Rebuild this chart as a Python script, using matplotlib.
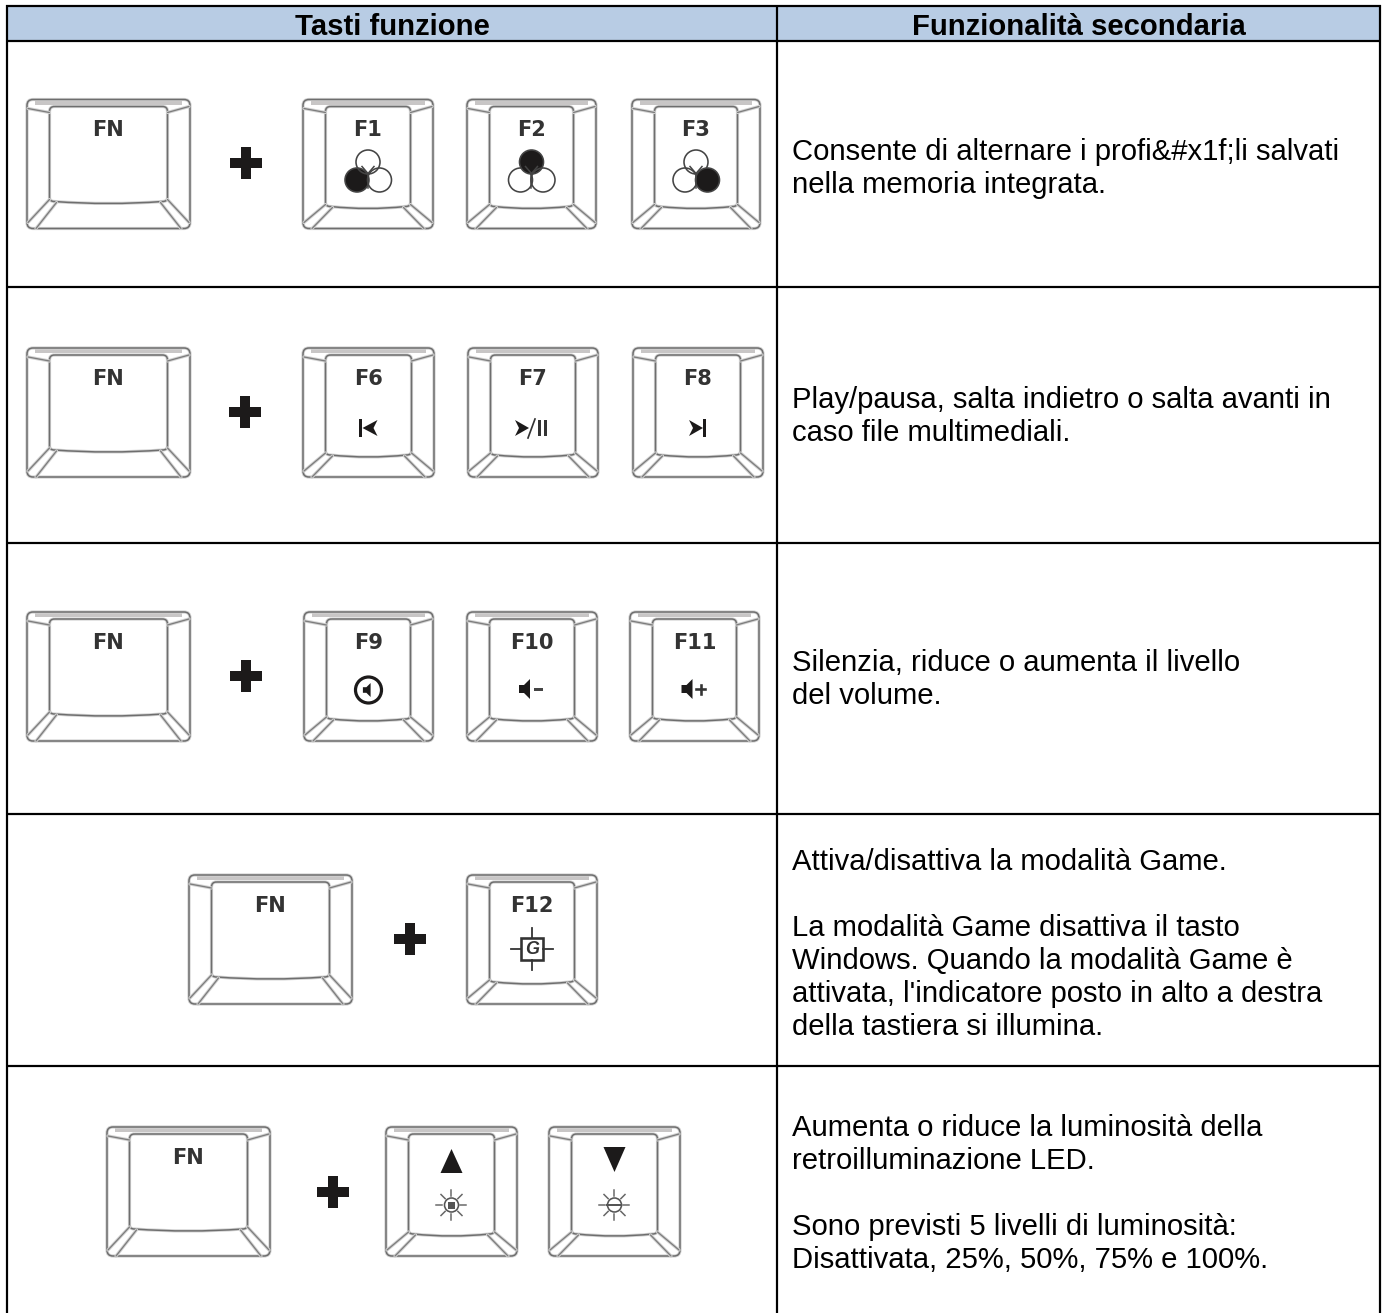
import matplotlib
matplotlib.use("Agg")
import matplotlib.pyplot as plt
from matplotlib.patches import Circle, FancyBboxPatch, PathPatch, Polygon, Rectangle
from matplotlib.path import Path

plt.rcParams['font.family'] = ['Liberation Sans', 'DejaVu Sans']

# table content
headers = ["Tasti funzione", "Funzionalità secondaria"]

row_keys = [
    ["FN", "F1", "F2", "F3"],
    ["FN", "F6", "F7", "F8"],
    ["FN", "F9", "F10", "F11"],
    ["FN", "F12"],
    ["FN", "UP", "DOWN"],
]

row_text = [
    ["Consente di alternare i profi&#x1f;li salvati", "nella memoria integrata."],
    ["Play/pausa, salta indietro o salta avanti in", "caso file multimediali."],
    ["Silenzia, riduce o aumenta il livello", "del volume."],
    ["Attiva/disattiva la modalità Game.", "",
     "La modalità Game disattiva il tasto",
     "Windows. Quando la modalità Game è",
     "attivata, l'indicatore posto in alto a destra",
     "della tastiera si illumina."],
    ["Aumenta o riduce la luminosità della", "retroilluminazione LED.", "",
     "Sono previsti 5 livelli di luminosità:",
     "Disattivata, 25%, 50%, 75% e 100%."],
]

# layout in pixels
W, H = 1382, 1313
left, mid, right = 7, 777, 1380.5
top, head_bot = 6, 40.5
row_lines = [287, 543, 813.5, 1065.5]
text_first = [149, 397, 660, 859, 1125]
line_h = 33
key_tops = [99.5, 348, 612, 875, 1127]
key_h = 129
key_x = [
    [(27, 190), (303, 433), (467, 596), (632, 760)],
    [(27, 190), (303, 434), (468, 598), (633, 763)],
    [(27, 190), (304, 433), (467, 597), (630, 759)],
    [(189, 352), (467, 597)],
    [(107, 270), (386, 517), (549, 680)],
]
plus_pos = [(246, 163), (245, 412), (246, 676), (410, 939), (333, 1192)]

fig = plt.figure(figsize=(W / 100, H / 100), dpi=100)
ax = fig.add_axes([0, 0, 1, 1])
ax.set_xlim(0, W)
ax.set_ylim(H, 0)
ax.axis('off')

PX = 0.72  # points per pixel
DARK = "#1c1a1a"
GREY = "#7d7d7d"
SOFT = "#d2d2d2"


def stroke(xs, ys, z=3):
    ax.plot(xs, ys, color=SOFT, lw=3.2 * PX, solid_capstyle='round', zorder=z)
    ax.plot(xs, ys, color=GREY, lw=1.3 * PX, solid_capstyle='round', zorder=z + 0.1)


def inner_path(x0, y0, x1, y1):
    r = 5
    verts = [(x0 + r, y0), (x1 - r, y0), (x1, y0), (x1, y0 + r), (x1, y1 - r), (x1, y1 - 1),
             (x1 - r, y1 - 1), ((x0 + x1) / 2, y1 + 3), (x0 + r, y1 - 1), (x0, y1 - 1),
             (x0, y1 - r), (x0, y0 + r), (x0, y0), (x0 + r, y0)]
    codes = [Path.MOVETO, Path.LINETO, Path.CURVE3, Path.CURVE3, Path.LINETO, Path.CURVE3,
             Path.CURVE3, Path.CURVE3, Path.CURVE3, Path.CURVE3, Path.CURVE3, Path.LINETO,
             Path.CURVE3, Path.CURVE3]
    return Path(verts, codes)


def speaker(cx, cy, s=1.0):
    pts = [(cx - 8 * s, cy - 4 * s), (cx - 3 * s, cy - 4 * s), (cx + 3 * s, cy - 10 * s),
           (cx + 3 * s, cy + 10 * s), (cx - 3 * s, cy + 4 * s), (cx - 8 * s, cy + 4 * s)]
    ax.add_patch(Polygon(pts, closed=True, fc=DARK, ec='none', zorder=5))


def sun(cx, cy, minus=False):
    ax.add_patch(Circle((cx, cy), 7, fc='white', ec="#555555", lw=1.6 * PX, zorder=5))
    for dx, dy in [(0, -1), (0, 1), (-1, 0), (1, 0), (.7, .7), (-.7, .7), (.7, -.7), (-.7, -.7)]:
        ax.plot([cx + 9 * dx, cx + 15 * dx], [cy + 9 * dy, cy + 15 * dy], color="#666666",
                lw=1.5 * PX, zorder=5)
    if minus:
        ax.plot([cx - 7, cx + 7], [cy, cy], color="#555555", lw=2 * PX, zorder=6)
    else:
        ax.add_patch(Rectangle((cx - 3.5, cy - 3.5), 7, 7, fc="#555555", ec='none', zorder=6))


def icon(name, cx, y0):
    cy = y0 + 80
    if name in ("F1", "F2", "F3"):
        c_list = [(cx - 11, y0 + 80.5), (cx, y0 + 62.5), (cx + 11.5, y0 + 80.5)]
        filled = {"F1": 0, "F2": 1, "F3": 2}[name]
        for i, c in enumerate(c_list):
            ax.add_patch(Circle(c, 12, fc=DARK if i == filled else 'none',
                                ec="#444444", lw=1.6 * PX, zorder=5))
        ax.plot([cx - 6, cx, cx + 6], [y0 + 67, y0 + 74, y0 + 67], color="#444444", lw=1.5 * PX, zorder=6)
        ax.plot([cx, cx], [y0 + 74, y0 + 88], color="#444444", lw=1.5 * PX, zorder=6)
    elif name == "F6":
        ax.add_patch(Rectangle((cx - 9, cy - 9), 3, 18, fc=DARK, ec='none', zorder=5))
        ax.add_patch(Polygon([(cx - 6, cy), (cx + 9, cy - 8), (cx + 5, cy), (cx + 9, cy + 8)],
                             fc=DARK, ec='none', zorder=5))
    elif name == "F7":
        ax.add_patch(Polygon([(cx - 18, cy - 8), (cx - 4, cy), (cx - 18, cy + 8), (cx - 14, cy)],
                             fc=DARK, ec='none', zorder=5))
        ax.plot([cx - 5, cx + 2], [cy + 10, cy - 9], color="#333333", lw=1.7 * PX, zorder=5)
        ax.add_patch(Rectangle((cx + 5, cy - 8), 3.5, 16, fc="#333333", ec='none', zorder=5))
        ax.add_patch(Rectangle((cx + 11, cy - 8), 3.5, 16, fc="#333333", ec='none', zorder=5))
    elif name == "F8":
        ax.add_patch(Polygon([(cx - 9, cy - 8), (cx + 5, cy), (cx - 9, cy + 8), (cx - 5, cy)],
                             fc=DARK, ec='none', zorder=5))
        ax.add_patch(Rectangle((cx + 5, cy - 9), 3, 18, fc=DARK, ec='none', zorder=5))
    elif name == "F9":
        ax.add_patch(Circle((cx, cy - 2), 13, fc='none', ec=DARK, lw=3.2 * PX, zorder=5))
        speaker(cx, cy - 2, 0.7)
    elif name == "F10":
        speaker(cx - 5, cy - 3)
        ax.add_patch(Rectangle((cx + 2, cy - 4.5), 9, 3, fc="#444444", ec='none', zorder=5))
    elif name == "F11":
        speaker(cx - 5, cy - 3)
        ax.plot([cx + 2, cx + 11], [cy - 3, cy - 3], color="#333333", lw=2.6 * PX, zorder=5)
        ax.plot([cx + 6.5, cx + 6.5], [cy - 7.5, cy + 1.5], color="#333333", lw=2.6 * PX, zorder=5)
    elif name == "F12":
        gy = y0 + 74
        ax.add_patch(Rectangle((cx - 11, gy - 11), 22, 22, fc='white', ec="#333333", lw=2.6 * PX, zorder=5))
        for dx, dy in [(0, -1), (0, 1), (-1, 0), (1, 0)]:
            ax.plot([cx + 11 * dx, cx + 21 * dx], [gy + 11 * dy, gy + 21 * dy], color="#333333",
                    lw=1.8 * PX, zorder=5)
        ax.text(cx, gy, "G", fontsize=18 * PX, fontweight='bold', style='italic', color="#333333",
                ha='center', va='center', zorder=6)
    elif name == "UP":
        ax.add_patch(Polygon([(cx - 11, y0 + 46), (cx + 11, y0 + 46), (cx, y0 + 22)], fc=DARK, ec='none', zorder=5))
        sun(cx, y0 + 78)
    elif name == "DOWN":
        ax.add_patch(Polygon([(cx - 11, y0 + 20), (cx + 11, y0 + 20), (cx, y0 + 45)], fc=DARK, ec='none', zorder=5))
        sun(cx, y0 + 78, minus=True)


def draw_key(x0, x1, y0, name):
    y1 = y0 + key_h
    is_fn = name == "FN"
    side = 22.5
    bottom = 26 if is_fn else 21
    for lw, col in [(3.2, SOFT), (1.5, "#6e6e6e")]:
        ax.add_patch(FancyBboxPatch((x0 + 6, y0 + 6), x1 - x0 - 12, key_h - 12,
                                    boxstyle="round,pad=6,rounding_size=6",
                                    fc='none', ec=col, lw=lw * PX, zorder=3))
        ax.add_patch(PathPatch(inner_path(x0 + side, y0 + 7, x1 - side, y1 - bottom),
                               fc='none', ec=col, lw=lw * PX, zorder=3))
    # light band on top edge of key
    ax.plot([x0 + 10, x1 - 10], [y0 + 3, y0 + 3], color="#c8c6c6", lw=4 * PX, zorder=2.5)
    stroke([x0 + 1, x0 + side], [y0 + 9, y0 + 13])
    stroke([x1 - 1, x1 - side], [y0 + 7, y0 + 13])
    stroke([x0 + 1, x0 + side], [y1 - 6, y1 - bottom - 3])
    stroke([x0 + 9, x0 + side + 7], [y1, y1 - bottom])
    stroke([x1 - 1, x1 - side], [y1 - 6, y1 - bottom - 3])
    stroke([x1 - 9, x1 - side - 7], [y1, y1 - bottom])
    cx = (x0 + x1) / 2
    if name not in ("UP", "DOWN"):
        ax.text(cx, y0 + 31, name, fontsize=21 * PX, color="#333333",
                family=['DejaVu Sans'], fontweight='bold', ha='center', va='center', zorder=5)
    icon(name, cx, y0)


# header band
ax.add_patch(Rectangle((left, top), right - left, head_bot - top, fc="#b8cce4", ec='none', zorder=0))

# table lines
for y in [top, head_bot] + row_lines:
    ax.plot([left - 1, right + 1], [y, y], color='black', lw=2.2 * PX, solid_capstyle='butt', zorder=1)
for x in [left, mid, right]:
    ax.plot([x, x], [top - 1, H], color='black', lw=2.2 * PX, solid_capstyle='butt', zorder=1)

ax.text((left + mid) / 2, 27, headers[0], fontsize=29.2 * PX, fontweight='bold', ha='center', va='center')
ax.text((mid + right) / 2, 27, headers[1], fontsize=29.2 * PX, fontweight='bold', ha='center', va='center')

for r, keys in enumerate(row_keys):
    for name, (x0, x1) in zip(keys, key_x[r]):
        draw_key(x0, x1, key_tops[r], name)
    px, py = plus_pos[r]
    ax.plot([px - 16, px + 16], [py, py], color=DARK, lw=10 * PX, solid_capstyle='butt', zorder=4)
    ax.plot([px, px], [py - 16, py + 16], color=DARK, lw=10 * PX, solid_capstyle='butt', zorder=4)
    for i, line in enumerate(row_text[r]):
        ax.text(792, text_first[r] + i * line_h, line, fontsize=29.2 * PX, color='black',
                ha='left', va='center_baseline')

fig.savefig("out.png", dpi=100)
